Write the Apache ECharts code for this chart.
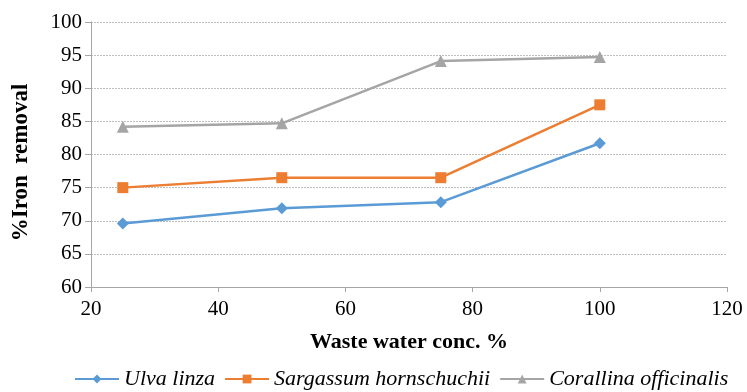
<!DOCTYPE html>
<html>
<head>
<meta charset="utf-8">
<script src="https://cdn.jsdelivr.net/npm/echarts@6/dist/echarts.min.js"></script>
<style>html,body{margin:0;padding:0;background:#fff;}#c{width:747px;height:392px;}</style>
</head>
<body>
<div id="c"></div>
<script>
const xValues = [25, 50, 75, 100];
const ulva = [69.6, 71.9, 72.8, 81.7];
const sargassum = [75.0, 76.5, 76.5, 87.5];
const corallina = [84.2, 84.7, 94.1, 94.7];
const seriesNames = ['Ulva linza', 'Sargassum hornschuchii', 'Corallina officinalis'];
const colors = ['#5B9BD5', '#ED7D31', '#A5A5A5'];
const symbols = ['diamond', 'rect', 'triangle'];
const symbolSizes = [12, 11, 12];
const allData = [ulva, sargassum, corallina];

const font = '"Liberation Serif", "Times New Roman", serif';
const chart = echarts.init(document.getElementById('c'));
chart.setOption({
  animation: false,
  color: colors,
  textStyle: { fontFamily: font },
  grid: { left: 91, right: 20, top: 22, bottom: 105 },
  legend: {
    bottom: -3,
    left: 69,
    itemWidth: 44,
    itemHeight: 11,
    itemGap: 9,
    textStyle: { fontFamily: font, fontStyle: 'italic', fontSize: 22, color: '#000' },
    data: seriesNames
  },
  xAxis: {
    type: 'value', min: 20, max: 120, interval: 20,
    name: 'Waste water conc. %', nameLocation: 'middle', nameGap: 44,
    nameTextStyle: { fontFamily: font, fontWeight: 'bold', fontSize: 22, color: '#000' },
    axisLine: { lineStyle: { color: '#A6A6A6', width: 1 } },
    axisTick: { show: true, length: 5, lineStyle: { color: '#A6A6A6' } },
    axisLabel: { fontFamily: font, fontSize: 21, color: '#000', margin: 12 },
    splitLine: { show: false }
  },
  yAxis: {
    type: 'value', min: 60, max: 100, interval: 5,
    name: '%Iron  removal', nameLocation: 'middle', nameGap: 58,
    nameTextStyle: { fontFamily: font, fontWeight: 'bold', fontSize: 23, color: '#000', padding: [0, 16, 0, 0] },
    axisLine: { show: true, lineStyle: { color: '#A6A6A6', width: 1 } },
    axisTick: { show: true, length: 6, lineStyle: { color: '#A6A6A6' } },
    axisLabel: { fontFamily: font, fontSize: 21, color: '#000', margin: 9 },
    splitLine: { show: true, lineStyle: { color: '#BFBFBF', type: [2, 1], width: 1 } }
  },
  series: seriesNames.map((n, i) => ({
    name: n,
    type: 'line',
    data: xValues.map((x, j) => [x, allData[i][j]]),
    symbol: symbols[i],
    symbolSize: symbolSizes[i],
    lineStyle: { width: 2.5, color: colors[i] },
    itemStyle: { color: colors[i] }
  }))
});
</script>
</body>
</html>
